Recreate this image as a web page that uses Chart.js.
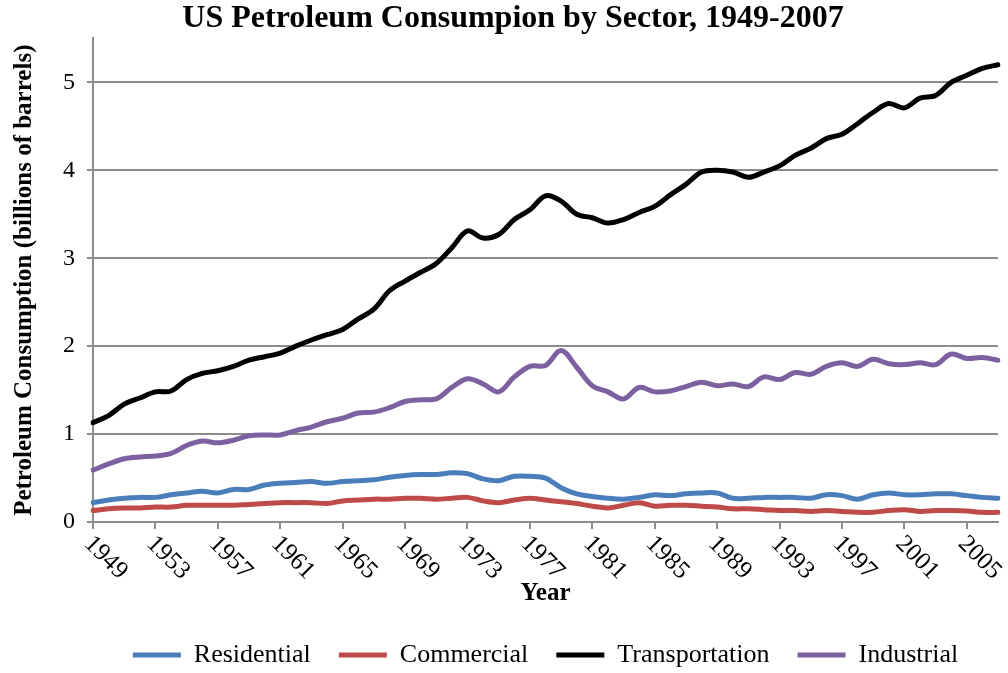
<!DOCTYPE html>
<html>
<head>
<meta charset="utf-8">
<script src="https://cdn.jsdelivr.net/npm/chart.js@4"></script>
<style>
  body { margin: 0; background: #fff; }
  #wrap { width: 1008px; height: 673px; }
</style>
</head>
<body>
<div id="wrap"><canvas id="chart"></canvas></div>
<script>
const years = ['1949','1950','1951','1952','1953','1954','1955','1956','1957','1958',
  '1959','1960','1961','1962','1963','1964','1965','1966','1967','1968',
  '1969','1970','1971','1972','1973','1974','1975','1976','1977','1978',
  '1979','1980','1981','1982','1983','1984','1985','1986','1987','1988',
  '1989','1990','1991','1992','1993','1994','1995','1996','1997','1998',
  '1999','2000','2001','2002','2003','2004','2005','2006','2007'];
const tickYears = ['1949','1953','1957','1961','1965','1969','1973','1977','1981','1985','1989','1993','1997','2001','2005'];
const yTickValues = [0, 1, 2, 3, 4, 5];

// billions of barrels
const residential = [0.22,0.25,0.27,0.28,0.28,0.31,0.33,0.35,0.33,0.37,
  0.37,0.42,0.44,0.45,0.46,0.44,0.46,0.47,0.48,0.51,
  0.53,0.54,0.54,0.56,0.55,0.49,0.47,0.52,0.52,0.50,
  0.39,0.32,0.29,0.27,0.26,0.28,0.31,0.30,0.32,0.33,
  0.33,0.27,0.27,0.28,0.28,0.28,0.27,0.31,0.30,0.26,
  0.31,0.33,0.31,0.31,0.32,0.32,0.30,0.28,0.27];
const commercial = [0.13,0.15,0.16,0.16,0.17,0.17,0.19,0.19,0.19,0.19,
  0.20,0.21,0.22,0.22,0.22,0.21,0.24,0.25,0.26,0.26,
  0.27,0.27,0.26,0.27,0.28,0.24,0.22,0.25,0.27,0.25,
  0.23,0.21,0.18,0.16,0.19,0.22,0.18,0.19,0.19,0.18,
  0.17,0.15,0.15,0.14,0.13,0.13,0.12,0.13,0.12,0.11,
  0.11,0.13,0.14,0.12,0.13,0.13,0.125,0.11,0.11];
const transportation = [1.13,1.21,1.34,1.41,1.48,1.49,1.62,1.69,1.72,1.77,
  1.84,1.88,1.92,2.00,2.07,2.13,2.19,2.31,2.42,2.63,
  2.74,2.84,2.94,3.12,3.31,3.23,3.27,3.44,3.55,3.71,
  3.65,3.50,3.46,3.40,3.44,3.52,3.59,3.72,3.84,3.98,
  4.00,3.98,3.92,3.98,4.05,4.17,4.25,4.36,4.41,4.53,
  4.66,4.76,4.71,4.82,4.85,5.00,5.08,5.16,5.20];
const industrial = [0.59,0.66,0.72,0.74,0.75,0.78,0.87,0.92,0.90,0.93,
  0.98,0.99,0.99,1.04,1.08,1.14,1.18,1.24,1.25,1.30,
  1.37,1.39,1.40,1.53,1.63,1.57,1.48,1.65,1.77,1.78,
  1.95,1.76,1.55,1.48,1.40,1.53,1.48,1.49,1.54,1.59,
  1.55,1.57,1.54,1.65,1.62,1.70,1.68,1.77,1.81,1.77,
  1.85,1.80,1.79,1.81,1.79,1.91,1.86,1.87,1.84];

const serif = '"Liberation Serif", "Times New Roman", serif';
const gridGray = '#8c8c8c';

function line(label, data, color) {
  return {
    label: label,
    data: data,
    borderColor: color,
    backgroundColor: color,
    borderWidth: 5,
    borderCapStyle: 'round',
    borderJoinStyle: 'round',
    pointRadius: 0,
    tension: 0.35,
    fill: false
  };
}

// rotated year labels, running down to the right like the original
const yearLabels = {
  id: 'yearLabels',
  afterDraw(chart) {
    const xs = chart.scales.x;
    const ctx = chart.ctx;
    ctx.save();
    ctx.font = '25px ' + serif;
    ctx.fillStyle = '#000';
    ctx.textAlign = 'left';
    ctx.textBaseline = 'middle';
    years.forEach((yr, i) => {
      if (!tickYears.includes(yr)) return;
      const x = xs.getPixelForValue(i);
      ctx.save();
      ctx.translate(x - 5, xs.top + 18);
      ctx.rotate(Math.PI / 4);
      ctx.fillText(yr, 0, 0);
      ctx.restore();
    });
    ctx.restore();
  }
};

new Chart(document.getElementById('chart'), {
  type: 'line',
  data: {
    labels: years,
    datasets: [
      line('Residential', residential, '#4a7ebb'),
      line('Commercial', commercial, '#be4b48'),
      line('Transportation', transportation, '#000000'),
      line('Industrial', industrial, '#7d60a0')
    ]
  },
  options: {
    responsive: true,
    maintainAspectRatio: false,
    animation: false,
    layout: { padding: { left: 28, right: 10, top: 0, bottom: -5 } },
    plugins: {
      title: {
        display: true,
        text: 'US Petroleum Consumpion by Sector, 1949-2007',
        color: '#000',
        font: { family: serif, size: 32, weight: 'bold' },
        padding: { top: 0, bottom: 0 }
      },
      legend: {
        position: 'bottom',
        fullSize: false,
        labels: {
          color: '#000',
          font: { family: serif, size: 26 },
          usePointStyle: true,
          pointStyle: 'line',
          pointStyleWidth: 48,
          padding: 28
        }
      },
      tooltip: { enabled: false }
    },
    scales: {
      x: {
        offset: false,
        afterFit: s => { s.height = 92; },
        ticks: { display: false, autoSkip: false },
        grid: {
          display: true,
          drawOnChartArea: false,
          drawTicks: true,
          tickLength: 7,
          lineWidth: 2,
          color: c => tickYears.includes(years[c.index]) ? gridGray : 'rgba(0,0,0,0)'
        },
        border: { display: true, color: gridGray, width: 2 },
        title: {
          display: true,
          text: 'Year',
          color: '#000',
          font: { family: serif, size: 25, weight: 'bold' },
          padding: { top: 0, bottom: 5 }
        }
      },
      y: {
        min: 0,
        max: 5.5,
        afterFit: s => { s.width = 65; },
        afterBuildTicks: axis => {
          axis.ticks = axis.ticks.filter(t => yTickValues.includes(t.value));
        },
        ticks: {
          stepSize: 1,
          color: '#000',
          font: { family: serif, size: 24 },
          padding: 12
        },
        grid: { color: gridGray, lineWidth: 2, tickLength: 6 },
        border: { display: true, color: gridGray, width: 2 },
        title: {
          display: true,
          text: 'Petroleum Consumption (billions of barrels)',
          color: '#000',
          font: { family: serif, size: 25, weight: 'bold' },
          padding: { top: -18, bottom: 0 }
        }
      }
    }
  },
  plugins: [yearLabels]
});
</script>
</body>
</html>
